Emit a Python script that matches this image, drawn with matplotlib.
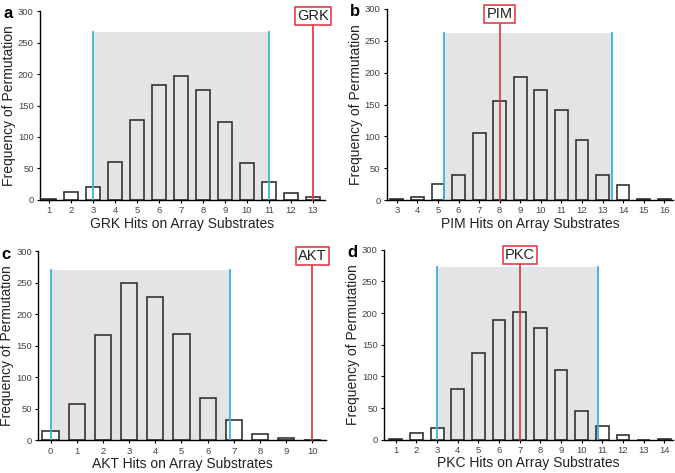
import matplotlib.pyplot as plt
import numpy as np

plt.rcParams['font.family'] = ['Liberation Sans', 'DejaVu Sans']

# panel a: GRK
grk_hits = [1, 2, 3, 4, 5, 6, 7, 8, 9, 10, 11, 12, 13]
grk_freq = [1, 12, 21, 60, 127, 182, 197, 174, 124, 58, 29, 11, 4]
grk_interval = (3, 11, 267)
grk_observed = 13

# panel b: PIM
pim_hits = [3, 4, 5, 6, 7, 8, 9, 10, 11, 12, 13, 14, 15, 16]
pim_freq = [1, 5, 25, 40, 105, 155, 194, 173, 141, 94, 40, 23, 1, 2]
pim_interval = (5.28, 13.44, 262)
pim_observed = 8

# panel c: AKT
akt_hits = [0, 1, 2, 3, 4, 5, 6, 7, 8, 9, 10]
akt_freq = [15, 57, 167, 250, 227, 169, 67, 33, 10, 4, 0]
akt_interval = (0, 6.85, 270)
akt_observed = 10

# panel d: PKC
pkc_hits = [1, 2, 3, 4, 5, 6, 7, 8, 9, 10, 11, 12, 13, 14]
pkc_freq = [1, 10, 19, 80, 137, 189, 202, 176, 110, 46, 21, 8, 0, 1]
pkc_interval = (3, 10.77, 272)
pkc_observed = 7

BLUE = "#3bb3df"
RED = "#e0303c"
SHADE = "#e3e4e6"
EDGE = "#333333"

W, H = 675, 473
fig = plt.figure(figsize=(W / 100, H / 100), dpi=100)


def panel(rect, letter, name, hits, freq, interval, observed, xlim):
    ax = fig.add_axes(rect)
    lo, hi, top = interval
    ax.fill_between([lo, hi], 0, top, color=SHADE, lw=0, zorder=0)
    ax.plot([lo, lo], [0, top], color=BLUE, lw=1.3, zorder=3)
    ax.plot([hi, hi], [0, top], color=BLUE, lw=1.3, zorder=3)

    # bars inside the interval let the shade show through
    faces = ["none" if lo < h < hi else "white" for h in hits]
    ax.bar(hits, freq, width=0.62, facecolor=faces, edgecolor=EDGE,
           lw=1.2, zorder=2)

    ax.plot([observed, observed], [0, 282], color=RED, lw=1.2, zorder=4,
            clip_on=False)
    ax.text(observed, 292, name, ha="center", va="center", fontsize=10.5,
            color="#222222", zorder=5, clip_on=False,
            bbox=dict(boxstyle="square,pad=0.15", fc="white", ec=RED, lw=1.1))

    ax.set_xlim(*xlim)
    ax.set_ylim(0, 300)
    ax.set_xticks(hits)
    ax.set_yticks(np.arange(0, 301, 50))
    ax.tick_params(labelsize=6.8, labelcolor="#444444", length=2.5,
                   width=0.8, pad=2)
    for s in ["top", "right"]:
        ax.spines[s].set_visible(False)
    for s in ["left", "bottom"]:
        ax.spines[s].set_linewidth(1.0)
    ax.set_xlabel(name + " Hits on Array Substrates", fontsize=10,
                  labelpad=1, color="#222222")
    ax.set_ylabel("Frequency of Permutation", fontsize=10, color="#222222")
    # label sits a fixed number of pixels left of the spine
    width_px = rect[2] * W
    ax.yaxis.set_label_coords(-24 / width_px, 0.5)
    ax.text(-32 / width_px, 0.985, letter, transform=ax.transAxes,
            fontsize=12, fontweight="bold", ha="center", va="center")
    return ax


panel([0.0593, 0.5772, 0.4222, 0.3995], "a", "GRK", grk_hits, grk_freq,
      grk_interval, grk_observed, (0.59, 13.55))
panel([0.573, 0.577, 0.4245, 0.404], "b", "PIM", pim_hits, pim_freq,
      pim_interval, pim_observed, (2.51, 16.44))
panel([0.0567, 0.069, 0.4263, 0.40], "c", "AKT", akt_hits, akt_freq,
      akt_interval, akt_observed, (-0.47, 10.52))
panel([0.569, 0.0704, 0.4285, 0.4016], "d", "PKC", pkc_hits, pkc_freq,
      pkc_interval, pkc_observed, (0.43, 14.44))

fig.savefig("out.png", dpi=100)
